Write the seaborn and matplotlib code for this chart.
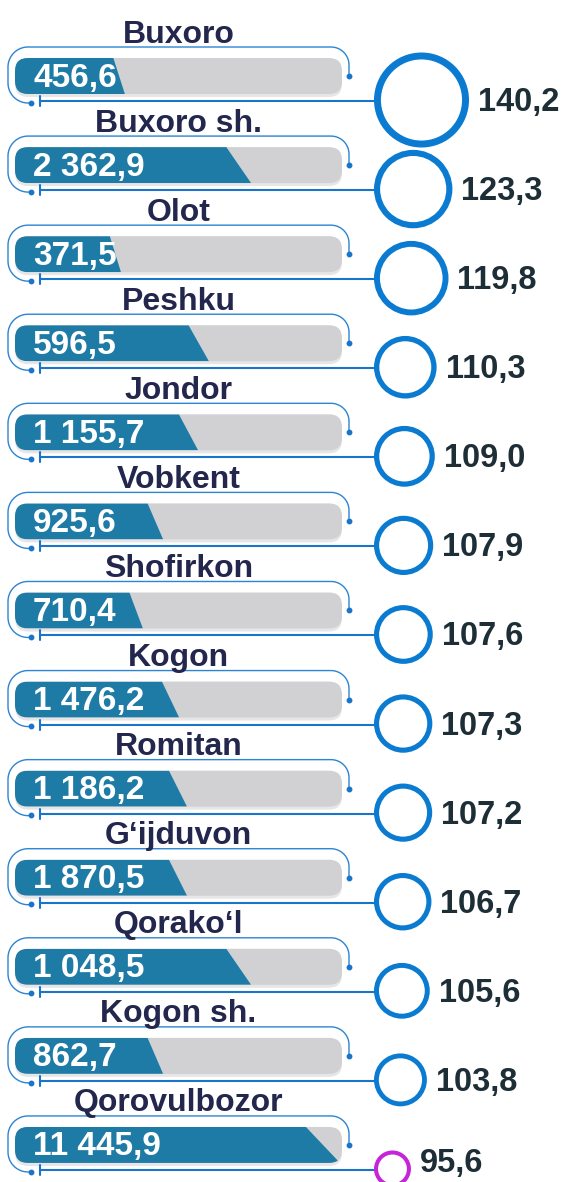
import numpy as np
import pandas as pd
import matplotlib
matplotlib.use("Agg")
import matplotlib.pyplot as plt
import seaborn as sns
from matplotlib.patches import FancyBboxPatch, Polygon

# ---------------- data ----------------
districts = ["Buxoro", "Buxoro sh.", "Olot", "Peshku", "Jondor", "Vobkent",
             "Shofirkon", "Kogon", "Romitan", "G\u2018ijduvon", "Qorako\u2018l",
             "Kogon sh.", "Qorovulbozor"]
volume = [456.6, 2362.9, 371.5, 596.5, 1155.7, 925.6, 710.4, 1476.2,
          1186.2, 1870.5, 1048.5, 862.7, 11445.9]
bar_fill_pct = [33.6, 72.2, 32.4, 59.3, 56.0, 45.3, 39.1, 50.2,
                52.6, 52.6, 72.2, 45.3, 99.4]
growth = [140.2, 123.3, 119.8, 110.3, 109.0, 107.9, 107.6, 107.3,
          107.2, 106.7, 105.6, 103.8, 95.6]

# ---------------- style ----------------
sns.set_theme(style="white")
plt.rcParams["font.family"] = ["Liberation Sans", "DejaVu Sans"]

GRAY = "#d1d1d3"
SHADOW = "#e6e6e8"
BAR_BLUE = "#1e7ba6"
LINE_BLUE = "#1a74c9"
BRACKET = "#2c84d2"
RING_BLUE = "#0a7bd0"
MAGENTA = "#c624d8"
LABEL_C = "#23264d"
VALUE_C = "#1d2e37"

W, H, DPI = 565, 1182, 100
SX = 3.27     # pixels per percent of the track
SY = 89.08    # pixels per row
X0, Y0 = 15, 76


def xd(px):
    return (px - X0) / SX


def yd(px):
    return (px - Y0) / SY


def fmt_space(v):
    return f"{v:,.1f}".replace(",", " ").replace(".", ",")


def fmt_comma(v):
    return f"{v:.1f}".replace(".", ",")


n = len(districts)
df = pd.DataFrame(dict(district=districts, volume=volume, fill=bar_fill_pct,
                       track=[100.0] * n, growth=growth, pos=np.arange(n)))
df["trend"] = np.where(df["growth"] >= 100, "up", "down")

fig = plt.figure(figsize=(W / DPI, H / DPI), dpi=DPI)
ax = fig.add_axes([0, 0, 1, 1])

BAR_W = 36 / SY
sns.barplot(data=df, y="pos", x="track", orient="y", native_scale=True,
            color=GRAY, saturation=1, width=BAR_W, errorbar=None, ax=ax)
n0 = len(ax.patches)
sns.barplot(data=df, y="pos", x="fill", orient="y", native_scale=True,
            color=BAR_BLUE, saturation=1, width=BAR_W, errorbar=None, ax=ax)
track_patches = ax.patches[:n0]
fill_patches = ax.patches[n0:]

ax.set_xlim(xd(0), xd(W))
ax.set_ylim(yd(H), yd(0))
ax.axis("off")

aspect = SX / SY
rnd = f"round,pad=0,rounding_size={13 / SX}"
tracks = []
for p in track_patches:
    x, y, w, h = p.get_x(), p.get_y(), p.get_width(), p.get_height()
    p.set_visible(False)
    sh = FancyBboxPatch((x, y + 3 / SY), w, h, boxstyle=rnd, mutation_aspect=aspect,
                        fc=SHADOW, ec="none", zorder=1)
    ax.add_patch(sh)
    tr = FancyBboxPatch((x, y), w, h, boxstyle=rnd, mutation_aspect=aspect,
                        fc=GRAY, ec="none", zorder=2)
    ax.add_patch(tr)
    tracks.append(tr)

for p, tr in zip(fill_patches, tracks):
    x, y, w, h = p.get_x(), p.get_y(), p.get_width(), p.get_height()
    p.set_visible(False)
    slant = 0.105 * w
    poly = Polygon([(x, y), (x + w - slant, y), (x + w, y + h), (x, y + h)],
                   closed=True, fc=BAR_BLUE, ec="none", zorder=3)
    ax.add_patch(poly)
    poly.set_clip_path(tr)

# ---------------- circles ----------------
SMIN, SMAX = 23.7 ** 2, 63.4 ** 2
gmin, gmax = min(growth), max(growth)
s_area = SMIN + (np.array(growth) - gmin) / (gmax - gmin) * (SMAX - SMIN)
d_pt = np.sqrt(s_area)
lw_pt = 0.0526 * d_pt + 1.66
d_out = (d_pt + lw_pt) * DPI / 72
CIRC_LEFT = 374
df["cx"] = xd(CIRC_LEFT + d_out / 2)
df["cy"] = df["pos"] + 24.0 / SY

sns.scatterplot(data=df, x="cx", y="cy", size="growth", sizes=(SMIN, SMAX),
                hue="trend", palette={"up": RING_BLUE, "down": MAGENTA},
                legend=False, ax=ax, zorder=6)
coll = ax.collections[-1]
coll.set_edgecolors(coll.get_facecolors())
coll.set_facecolors("white")
coll.set_linewidths(lw_pt)

# ---------------- lines, texts ----------------
for i in range(n):
    cy = Y0 + SY * i
    T, B = cy - 18, cy + 18
    pts = []
    a = np.radians(np.linspace(80, 180, 20))
    pts += list(zip(28 + 20 * np.cos(a), T + 25 + 20 * np.sin(a)))
    a = np.radians(np.linspace(180, 270, 20))
    pts += list(zip(28 + 20 * np.cos(a), T + 9 + 20 * np.sin(a)))
    a = np.radians(np.linspace(270, 360, 20))
    pts += list(zip(331 + 18 * np.cos(a), T + 7 + 18 * np.sin(a)))
    pts.append((349, T + 18))
    pts = np.array(pts)
    ax.plot(xd(pts[:, 0]), yd(pts[:, 1]), color=BRACKET, lw=1.0, zorder=4,
            solid_capstyle="round")
    ax.plot([xd(pts[0, 0]), xd(pts[-1, 0])], [yd(pts[0, 1]), yd(pts[-1, 1])],
            ls="none", marker="o", ms=3.2, color=LINE_BLUE, zorder=4)
    # lower connector
    ly = B + 7
    ax.plot([xd(40), xd(CIRC_LEFT + 3)], [yd(ly), yd(ly)], color=LINE_BLUE,
            lw=1.5, zorder=4)
    ax.plot([xd(40), xd(40)], [yd(ly - 5), yd(ly + 5)], color=LINE_BLUE,
            lw=1.5, zorder=4)

    # district label
    ax.text(xd(178.5), yd(T - 15.5), districts[i], ha="center", va="baseline",
            fontsize=23, fontweight="bold", color=LABEL_C, zorder=7)
    # value in bar
    ax.text(xd(33), yd(cy + 10.5), fmt_space(volume[i]), ha="left",
            va="baseline", fontsize=24, fontweight="bold", color="white",
            zorder=7)
    # growth value (kept inside the canvas)
    base = min(B + 17, H - 10)
    ax.text(xd(CIRC_LEFT + d_out[i] + 9), yd(base), fmt_comma(growth[i]),
            ha="left", va="baseline", fontsize=23.5, fontweight="bold",
            color=VALUE_C, zorder=7)

fig.savefig("out.png", dpi=DPI)
